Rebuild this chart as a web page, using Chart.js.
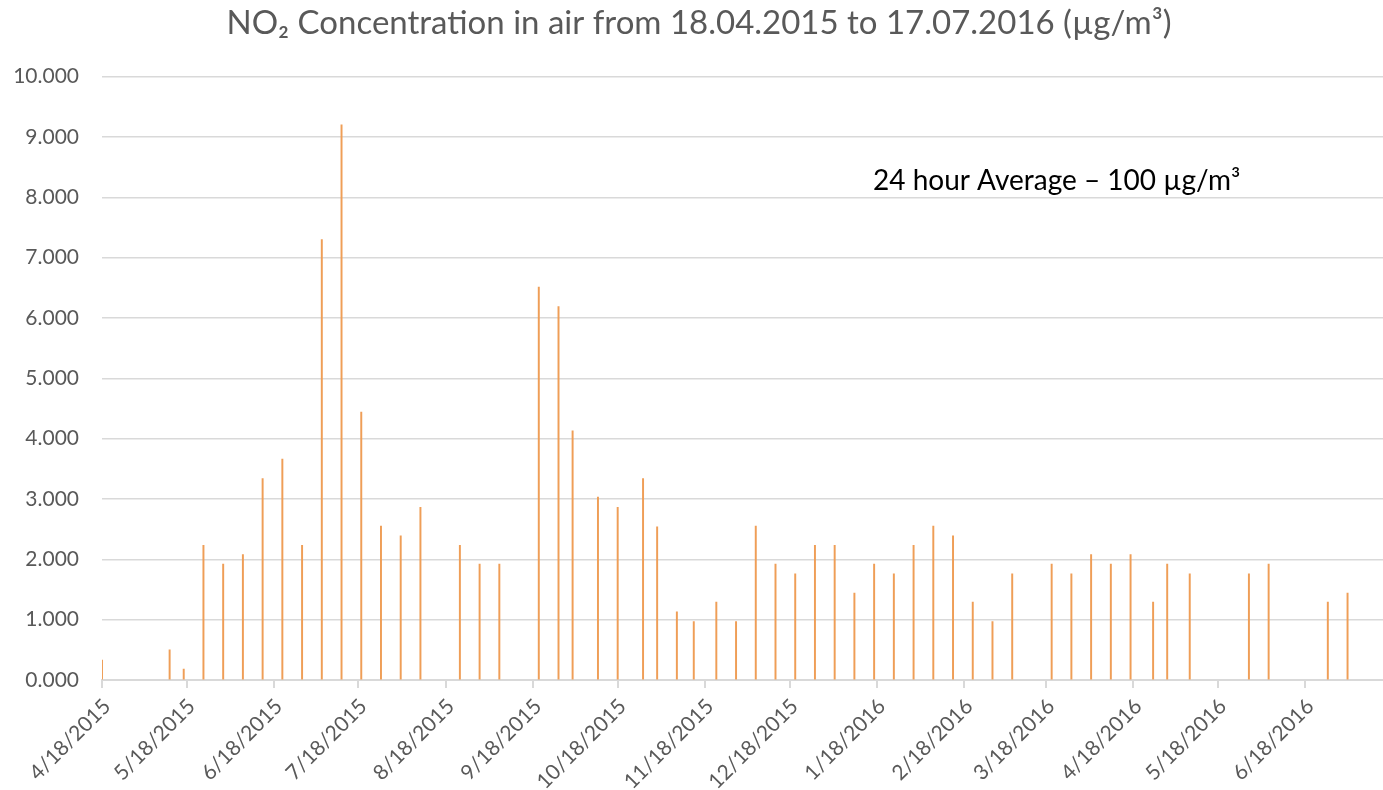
<!DOCTYPE html>
<html>
<head>
<meta charset="utf-8">
<script src="https://cdn.jsdelivr.net/npm/chart.js@4.4.1/dist/chart.umd.min.js"></script>
<style>
  html, body { margin: 0; padding: 0; background: #fff; overflow: hidden; }
  #wrap { width: 1387px; height: 790px; position: relative; }
</style>
</head>
<body>
<div id="wrap"><canvas id="no2-chart"></canvas></div>
<script>
const measureDates = [
  '4/18/2015', '5/12/2015', '5/17/2015', '5/24/2015', '5/31/2015', '6/7/2015', '6/14/2015',
  '6/21/2015', '6/28/2015', '7/5/2015', '7/12/2015', '7/19/2015', '7/26/2015', '8/2/2015',
  '8/9/2015', '8/23/2015', '8/30/2015', '9/6/2015', '9/20/2015', '9/27/2015', '10/2/2015',
  '10/11/2015', '10/18/2015', '10/27/2015', '11/1/2015', '11/8/2015', '11/14/2015', '11/22/2015',
  '11/29/2015', '12/6/2015', '12/13/2015', '12/20/2015', '12/27/2015', '1/3/2016', '1/10/2016',
  '1/17/2016', '1/24/2016', '1/31/2016', '2/7/2016', '2/14/2016', '2/21/2016', '2/28/2016',
  '3/6/2016', '3/20/2016', '3/27/2016', '4/3/2016', '4/10/2016', '4/17/2016', '4/25/2016',
  '4/30/2016', '5/8/2016', '5/29/2016', '6/5/2016', '6/26/2016', '7/3/2016'
];
const no2Values = [
  0.33, 0.50, 0.18, 2.23, 1.92, 2.08, 3.34,
  3.66, 2.23, 7.30, 9.20, 4.44, 2.55, 2.39,
  2.86, 2.23, 1.92, 1.92, 6.51, 6.19, 4.13,
  3.03, 2.86, 3.34, 2.54, 1.13, 0.97, 1.29,
  0.97, 2.55, 1.92, 1.76, 2.23, 2.23, 1.44,
  1.92, 1.76, 2.23, 2.55, 2.39, 1.29, 0.97,
  1.76, 1.92, 1.76, 2.08, 1.92, 2.08, 1.29,
  1.92, 1.76, 1.76, 1.92, 1.29, 1.44
];
const tickLabels = [
  '4/18/2015', '5/18/2015', '6/18/2015', '7/18/2015', '8/18/2015', '9/18/2015', '10/18/2015',
  '11/18/2015', '12/18/2015', '1/18/2016', '2/18/2016', '3/18/2016', '4/18/2016', '5/18/2016',
  '6/18/2016'
];
const firstDay = '2015-04-18';
const lastDay = '2016-07-17';

// every day of the period is one category, so the axis behaves like a date axis
const days = [];
for (let d = new Date(firstDay + 'T00:00:00Z'); d <= new Date(lastDay + 'T00:00:00Z'); d.setUTCDate(d.getUTCDate() + 1)) {
  days.push((d.getUTCMonth() + 1) + '/' + d.getUTCDate() + '/' + d.getUTCFullYear());
}
const dailyValues = days.map(day => {
  const i = measureDates.indexOf(day);
  return i >= 0 ? no2Values[i] : null;
});

const gridGrey = '#D9D9D9';
const textGrey = '#595959';

// the note in the upper right of the plot
const noteText = {
  id: 'noteText',
  afterDraw(chart) {
    const { ctx, chartArea } = chart;
    ctx.save();
    ctx.font = '28px Lato';
    ctx.fillStyle = '#000';
    ctx.textBaseline = 'alphabetic';
    ctx.fillText('24 hour Average \u2013 100 \u00b5g/m\u00b3', chartArea.left + 771, chartArea.top + 113);
    ctx.restore();
  }
};

new Chart(document.getElementById('no2-chart'), {
  type: 'bar',
  data: {
    labels: days,
    datasets: [{
      data: dailyValues,
      backgroundColor: '#EF9E57',
      barThickness: 1.3,
      borderWidth: 0
    }]
  },
  options: {
    responsive: true,
    maintainAspectRatio: false,
    animation: false,
    layout: { padding: { left: 11, right: 0, top: 0, bottom: 0 } },
    plugins: {
      legend: { display: false },
      tooltip: { enabled: false },
      title: {
        display: true,
        text: 'NO\u2082 Concentration in air from 18.04.2015 to 17.07.2016 (\u00b5g/m\u00b3)',
        color: textGrey,
        font: { family: 'Lato', size: 33, weight: 'normal' },
        padding: { top: 4, bottom: 33 }
      }
    },
    scales: {
      x: {
        offset: false,
        grid: { drawOnChartArea: false, drawTicks: true, tickLength: 8, color: gridGrey, lineWidth: 2, offset: false },
        border: { color: gridGrey, width: 2 },
        afterBuildTicks: axis => {
          axis.ticks = axis.ticks.filter(t => tickLabels.includes(days[t.value]));
        },
        afterFit: axis => { axis.height = 110; },
        ticks: {
          autoSkip: false,
          maxRotation: 45,
          minRotation: 45,
          padding: 6,
          labelOffset: 5,
          color: textGrey,
          font: { family: 'Lato', size: 21 },
          callback: function (value) { return this.getLabelForValue(value); }
        }
      },
      y: {
        min: 0,
        max: 10,
        grid: { color: gridGrey, lineWidth: 1.5, drawTicks: false },
        border: { display: false },
        afterFit: axis => { axis.width = 91; },
        ticks: {
          stepSize: 1,
          padding: 23,
          color: textGrey,
          font: { family: 'Lato', size: 21 },
          callback: v => v.toFixed(3)
        }
      }
    }
  },
  plugins: [noteText]
});
</script>
</body>
</html>
